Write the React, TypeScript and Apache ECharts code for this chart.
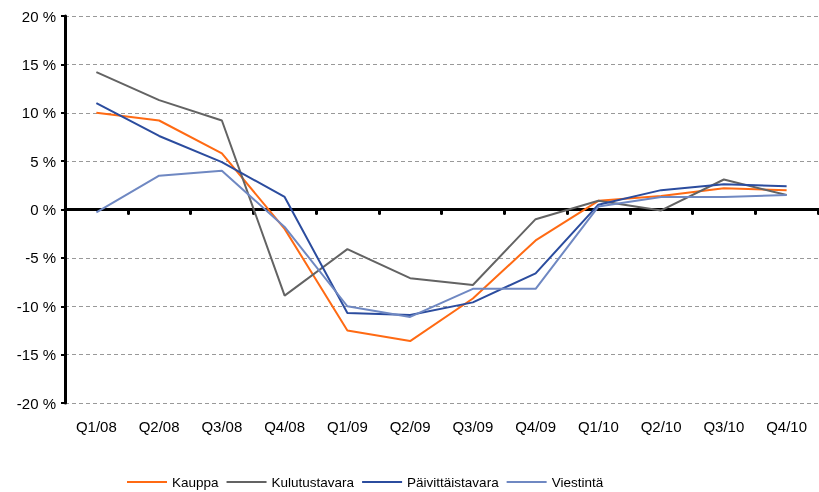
import React, { useEffect, useRef } from "react";
import * as echarts from "echarts";

const categories = ["Q1/08", "Q2/08", "Q3/08", "Q4/08", "Q1/09", "Q2/09", "Q3/09", "Q4/09", "Q1/10", "Q2/10", "Q3/10", "Q4/10"];
const kauppa = [10.0, 9.2, 5.8, -2.0, -12.5, -13.6, -9.2, -3.2, 0.9, 1.4, 2.2, 2.0];
const kulutustavara = [14.2, 11.3, 9.2, -8.9, -4.1, -7.1, -7.8, -1.0, 0.9, -0.1, 3.1, 1.5];
const paivittaistavara = [11.0, 7.6, 4.9, 1.3, -10.7, -10.9, -9.6, -6.6, 0.5, 2.0, 2.6, 2.4];
const viestinta = [-0.3, 3.5, 4.0, -1.8, -10.0, -11.1, -8.2, -8.2, 0.3, 1.3, 1.3, 1.5];
const seriesNames = ["Kauppa", "Kulutustavara", "Päivittäistavara", "Viestintä"];
const colors = ["#FF6A13", "#636363", "#2B4C9E", "#6F88C2"];

export default function App() {
  const ref = useRef<HTMLDivElement>(null);
  useEffect(() => {
    if (!ref.current) return;
    const chart = echarts.init(ref.current, undefined, { renderer: "svg" });
    const font = "Liberation Sans, Arial, sans-serif";
    const data = [kauppa, kulutustavara, paivittaistavara, viestinta];
    chart.setOption({
      animation: false,
      textStyle: { fontFamily: font },
      grid: { left: 65, right: 1, top: 16, bottom: 89, containLabel: false },
      legend: {
        left: 122,
        top: 470,
        itemWidth: 40,
        itemHeight: 2,
        itemGap: 8,
        icon: "rect",
        textStyle: { fontSize: 13.5, color: "#000", fontFamily: font },
        data: seriesNames,
      },
      xAxis: [
        {
          type: "category",
          data: categories,
          boundaryGap: true,
          axisLine: { show: true, onZero: true, lineStyle: { color: "#000", width: 3 } },
          axisTick: { show: true, inside: false, length: 4, lineStyle: { color: "#000", width: 3, cap: "round" } },
          axisLabel: { show: false },
          splitLine: { show: false },
        },
        {
          type: "category",
          data: categories,
          position: "bottom",
          boundaryGap: true,
          axisLine: { show: false, onZero: false },
          axisTick: { show: false },
          axisLabel: { show: true, margin: 16, fontSize: 15, color: "#000", fontFamily: font },
          splitLine: { show: false },
        },
      ],
      yAxis: {
        type: "value",
        min: -20,
        max: 20,
        interval: 5,
        axisLine: { show: true, lineStyle: { color: "#000", width: 3 } },
        axisTick: { show: true, length: 4, lineStyle: { color: "#000", width: 2 } },
        axisLabel: { formatter: (v: number) => v + " %", fontSize: 15, color: "#000", margin: 9, fontFamily: font },
        splitLine: { show: true, lineStyle: { color: "#999", type: [4, 3], width: 1 } },
      },
      series: seriesNames.map((n, i) => ({
        name: n,
        type: "line",
        xAxisIndex: 0,
        data: data[i],
        symbol: "none",
        showSymbol: false,
        lineStyle: { color: colors[i], width: 2 },
        itemStyle: { color: colors[i] },
        z: 3 + i,
      })),
    });
    return () => chart.dispose();
  }, []);
  return <div ref={ref} style={{ position: "fixed", left: 0, top: 0, width: 819, height: 492 }} />;
}
